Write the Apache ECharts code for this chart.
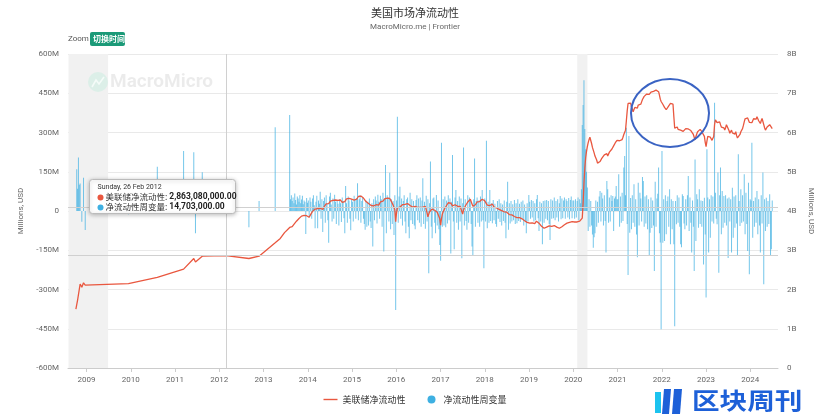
<!DOCTYPE html>
<html><head><meta charset="utf-8">
<script src="https://cdn.jsdelivr.net/npm/echarts@6/dist/echarts.min.js"></script>
<style>html,body{margin:0;padding:0;background:#fff}#c{width:830px;height:416px}</style>
</head><body><div id="c"></div>
<script>
// ---- Data (line: right axis, "B"; bars: left axis, "M") ----
const lineEarly = [['2008-10-05',1.50],['2008-10-19',1.73],['2008-11-09',2.14],['2008-11-23',2.06],['2008-12-07',2.17],['2008-12-21',2.11],['2009-12-13',2.15],['2010-08-08',2.31],['2011-03-13',2.52],['2011-06-05',2.79],['2011-06-19',2.70],['2011-08-14',2.85],['2012-02-26',2.863],['2012-09-02',2.79],['2012-11-25',2.85],['2013-04-07',3.19],['2013-05-19',3.30],['2013-06-23',3.45]];
const barEarly = [['2008-10-12',160],['2008-10-19',85],['2008-10-26',204],['2008-11-02',100],['2008-11-09',105],['2008-11-23',-41],['2008-12-07',127],['2008-12-21',-73],['2009-12-13',-12],['2010-08-08',169],['2011-03-13',229],['2011-06-05',225],['2011-06-19',-85],['2011-08-14',148],['2012-02-26',14.703],['2012-09-02',-62],['2012-11-25',38],['2013-04-07',320]];
const denseStart = [2013, 7, 4]; // weekly from 2013-08-04
const line2013 = [3.58,3.59,3.60,3.60,3.63,3.66,3.69,3.71,3.74,3.76,3.79,3.81,3.84,3.85,3.87,3.86,3.88,3.89,3.90,3.91,3.88,3.86];
const line2014 = [3.84,3.84,3.88,3.92,3.95,3.99,4.01,4.03,4.05,4.02,4.07,4.06,4.09,4.10,4.07,4.05,4.03,4.04,4.09,4.12,4.15,4.18,4.20,4.22,4.19,4.23,4.25,4.26,4.24,4.27,4.22,4.25,4.28,4.24,4.26,4.27,4.26,4.23,4.28,4.25,4.22,4.26,4.27,4.24,4.29,4.31,4.33,4.35,4.32,4.30,4.33,4.30];
const line2015 = [4.31,4.29,4.28,4.31,4.33,4.30,4.35,4.37,4.34,4.36,4.38,4.40,4.36,4.33,4.30,4.28,4.24,4.26,4.22,4.19,4.21,4.16,4.14,4.15,4.11,4.13,4.10,4.14,4.16,4.18,4.17,4.15,4.20,4.23,4.26,4.28,4.25,4.29,4.31,4.34,4.36,4.33,4.36,4.38,4.32,4.28,4.24,4.20,4.15,4.10,4.03,3.73];
const line2016 = [3.95,4.08,4.11,4.13,4.10,4.15,4.12,4.16,4.18,4.14,4.17,4.20,4.16,4.19,4.20,4.17,4.14,4.16,4.12,4.10,4.11,4.08,4.12,4.10,4.13,4.09,4.11,4.07,4.09,4.12,4.14,4.10,4.13,4.15,4.12,4.08,3.95,3.85,3.92,3.98,4.01,4.03,4.05,4.03,4.00,4.02,3.99,4.01,3.97,3.98,3.92,3.80];
const line2017 = [3.64,3.80,3.92,3.98,4.03,4.07,4.10,4.14,4.18,4.21,4.22,4.24,4.20,4.16,4.13,4.11,4.14,4.16,4.13,4.15,4.12,4.14,4.10,4.12,4.11,4.09,3.92,4.02,4.08,4.11,4.16,4.19,4.23,4.26,4.28,4.30,4.25,4.18,4.12,4.07,4.12,4.16,4.20,4.23,4.25,4.26,4.24,4.28,4.27,4.30,4.29,4.30,4.26];
const line2018 = [4.27,4.22,4.15,4.13,4.11,4.14,4.16,4.19,4.18,4.14,4.10,4.09,4.07,4.08,4.05,4.06,4.04,4.05,4.03,4.01,4.02,3.99,3.98,3.99,3.96,3.97,3.94,3.93,3.91,3.92,3.89,3.90,3.87,3.88,3.86,3.84,3.85,3.83,3.82,3.81,3.83,3.80,3.78,3.80,3.77,3.77,3.75,3.73,3.74,3.71,3.69,3.70];
const line2019 = [3.69,3.71,3.68,3.70,3.67,3.69,3.68,3.70,3.74,3.77,3.72,3.69,3.66,3.64,3.61,3.59,3.57,3.56,3.58,3.60,3.59,3.62,3.64,3.62,3.60,3.63,3.61,3.64,3.62,3.63,3.62,3.60,3.59,3.58,3.57,3.56,3.56,3.58,3.60,3.62,3.63,3.65,3.67,3.66,3.69,3.70,3.68,3.71,3.72,3.70,3.73,3.71];
const line2020 = [3.70,3.72,3.70,3.69,3.72,3.70,3.71,3.74,3.72,3.76,3.82,4.20,4.70,5.10,5.35,5.52,5.64,5.74,5.82,5.88,5.84,5.72,5.62,5.55,5.48,5.40,5.35,5.30,5.22,5.17,5.20,5.26,5.30,5.34,5.30,5.36,5.43,5.38,5.42,5.46,5.40,5.44,5.50,5.48,5.55,5.58,5.62,5.66,5.70,5.74,5.77,5.80];
const line2021 = [5.78,5.80,5.79,5.83,5.81,5.82,5.88,5.95,6.00,6.06,6.30,6.55,6.74,6.70,6.79,6.75,6.66,6.60,6.53,6.58,6.64,6.60,6.66,6.62,6.70,6.68,6.74,6.72,6.78,6.84,6.88,6.92,6.96,6.93,6.98,6.95,7.00,6.97,7.00,7.03,6.98,7.02,7.05,7.00,7.04,7.08,7.06,7.09,7.04,6.95,6.85,6.79];
const line2022 = [6.76,6.72,6.68,6.64,6.60,6.58,6.57,6.62,6.68,6.72,6.74,6.70,6.73,6.72,6.40,6.11,6.15,6.10,6.14,6.08,6.12,6.11,6.06,6.09,6.05,6.03,6.08,6.06,6.10,6.11,6.07,6.09,6.04,6.08,6.05,6.06,6.00,5.95,5.88,5.81,5.90,5.96,6.02,6.05,6.00,6.08,6.04,6.02,5.98,6.00,5.90,5.75];
const line2023 = [5.64,5.78,5.90,5.86,5.92,5.88,5.84,5.80,5.82,5.90,6.20,6.32,6.28,6.25,6.30,6.24,6.27,6.20,6.14,6.10,6.16,6.12,6.06,6.12,6.20,6.23,6.15,6.05,5.98,6.02,6.06,5.99,6.03,6.00,5.96,6.02,5.92,5.86,5.90,5.84,5.95,6.02,6.06,6.10,6.18,6.27,6.35,6.40,6.33,6.37,6.32,6.26,6.25];
const line2024 = [6.28,6.25,6.30,6.35,6.32,6.38,6.34,6.40,6.36,6.30,6.25,6.23,6.30,6.36,6.28,6.20,6.12,6.06,6.10,6.14,6.19,6.16,6.20,6.22,6.15,6.10];
const bar2013 = [367,45,60,38,52,30,67,42,25,55,48,35,60,30,44,58,26,40,35,-88,50,32];
const bar2014 = [40,-25,52,35,-30,48,60,22,-66,35,58,-66,40,28,74,-30,45,-80,38,52,-45,60,30,-35,-121,55,70,25,-40,48,-30,62,35,-50,40,28,-55,45,30,-42,52,38,-28,-85,96,30,-45,55,40,-30,-74,45];
const bar2015 = [35,-40,58,42,-30,50,106,-35,45,60,-45,38,52,-30,-50,-72,40,-60,35,-55,48,-40,-65,30,-136,45,-35,55,40,-48,62,35,-30,58,45,-60,70,-155,48,176,-85,60,52,-40,146,-70,45,-50,38,-92,60,-378];
const bar2016 = [40,360,-45,55,93,-30,48,-55,38,60,-40,-85,45,52,-60,-104,70,-35,45,-50,38,-55,-70,42,60,-35,48,-45,52,-60,40,125,-50,35,-68,58,-40,45,-238,30,189,-60,-104,48,52,-45,-85,61,-55,40,-70,-130];
const bar2017 = [-190,261,-60,45,-55,55,-62,40,-48,60,-35,48,-162,35,214,-40,-146,52,80,-45,38,-72,55,-40,48,-181,30,243,-55,45,-38,-72,60,-45,52,40,-50,-136,-168,45,201,-60,38,52,-45,40,-60,55,-40,80,-35,-219,48];
const bar2018 = [-40,268,-66,35,-45,80,-38,30,-47,42,-35,28,-50,-60,38,-30,45,-42,30,-55,25,-38,40,-45,-104,35,112,-72,30,-48,38,-40,26,-35,42,-50,30,-47,45,-38,28,-42,35,-30,40,-55,25,-38,-85,30,-40,61];
const bar2019 = [35,-30,42,-25,38,-40,30,-35,45,61,-28,-76,35,-40,30,-127,38,-45,40,-30,42,-35,38,-50,-111,45,-30,40,-28,52,-35,38,-25,45,-40,30,57,-32,48,-28,40,52,-30,45,38,-25,50,-32,42,55,-28,40];
const bar2020 = [40,-30,45,-25,38,52,-35,45,30,83,329,405,500,313,236,150,90,-76,45,-60,38,-55,-90,-140,-100,-85,40,-60,35,-45,55,76,-40,70,48,-55,60,-38,-159,115,83,-45,52,-40,60,38,57,-76,48,55,96,45];
const bar2021 = [45,140,-60,55,-45,70,-38,166,210,60,318,-50,-245,287,-83,50,-70,60,-45,102,-60,45,-90,-177,108,-55,70,48,-40,130,115,-60,55,-48,60,-70,45,-170,-83,52,-65,40,-55,-229,112,-60,48,66,166,-85,-120,-452];
const bar2022 = [229,-121,45,-115,60,-89,38,55,-60,83,-127,45,-70,38,-127,-440,38,-51,60,-45,52,-60,-127,-139,64,57,-48,-70,45,-55,60,134,-76,52,-45,-159,40,-60,-229,197,-115,64,45,-64,83,-50,40,-60,38,-204,51,-90];
const bar2023 = [-331,236,52,-159,45,-102,60,-40,55,-48,414,70,-30,-51,147,-236,60,166,-89,76,-64,57,-45,60,-55,48,-180,52,-40,45,-159,89,-102,55,-64,60,-48,-170,217,38,-57,83,-45,60,-40,140,-89,70,-50,-153,108,-242,45];
const bar2024 = [40,261,-102,38,-60,52,-45,76,-89,45,-55,-159,60,-48,147,-280,45,-76,51,-60,38,-50,64,-172,-146,40];
const recessions = [['2008-08-05','2009-06-28'],['2020-02-03','2020-04-27']];
const leftTicks = {min:-600,max:600,interval:150};
const rightTicks = {min:0,max:8,interval:1};
const tipDate = '2012-02-26';
const tipLine = 2.86308, tipBar = 14.703;

// ---- Build ----
const lineDense = [].concat(line2013,line2014,line2015,line2016,line2017,line2018,line2019,line2020,line2021,line2022,line2023,line2024);
const barDense = [].concat(bar2013,bar2014,bar2015,bar2016,bar2017,bar2018,bar2019,bar2020,bar2021,bar2022,bar2023,bar2024);
const t0 = new Date(denseStart[0],denseStart[1],denseStart[2],12).getTime();
const wk = 7*86400000;
const lineData = lineEarly.map(d=>[d[0],d[1]]).concat(lineDense.map((v,i)=>[t0+i*wk,v]));
const barData = barEarly.map(d=>[d[0],d[1]]).concat(barDense.map((v,i)=>[t0+i*wk,v]));

const FF = 'Roboto, "Noto Sans CJK SC", sans-serif';
const CJK = '"Noto Sans CJK SC", sans-serif';
function zz(list, z){ list.forEach(e=>{ e.z = z; if(e.children) zz(e.children, z); }); return list; }

const chart = echarts.init(document.getElementById('c'), null, {renderer:'canvas'});
chart.setOption({
  animation:false,
  backgroundColor:'#fff',
  textStyle:{fontFamily:FF},
  title:{text:'美国市场净流动性', subtext:'MacroMicro.me | Frontier', left:'center', top:2,
    textStyle:{fontSize:11,fontWeight:'normal',color:'#333',fontFamily:CJK},
    subtextStyle:{fontSize:8,color:'#666',fontFamily:FF}, itemGap:5},
  legend:{bottom:7,left:'center',itemWidth:14,itemHeight:8,itemGap:22,
    textStyle:{fontSize:9,color:'#333',fontFamily:CJK},
    data:[{name:'美联储净流动性',icon:'path://M0,3.3 L14,3.3 L14,4.7 L0,4.7 Z'},{name:'净流动性周变量',icon:'circle',itemStyle:{color:'#3eb0e2',opacity:1}}]},
  grid:{left:68,right:52,top:54,bottom:48},
  xAxis:{type:'time', min:'2008-08-05', max:'2024-08-13', splitNumber:16,
    minInterval:365*86400000, maxInterval:366*86400000,
    axisLine:{onZero:false,lineStyle:{color:'#ccc'}},
    axisTick:{show:true,length:4,lineStyle:{color:'#ccc'}},
    axisLabel:{formatter:'{yyyy}',color:'#666',fontSize:8,margin:8,fontFamily:FF,hideOverlap:false,showMinLabel:false,showMaxLabel:false},
    splitLine:{show:false}},
  yAxis:[
    {type:'value',min:leftTicks.min,max:leftTicks.max,interval:leftTicks.interval,position:'left',
     name:'Millions, USD',nameLocation:'middle',nameGap:36,nameTextStyle:{fontSize:8,color:'#666',fontFamily:FF},
     axisLine:{show:false},axisTick:{show:false},
     axisLabel:{formatter:v=>v===0?'0':v+'M',color:'#666',fontSize:8,margin:9,fontFamily:FF},
     splitLine:{lineStyle:{color:'#e9e9e9',width:1}}},
    {type:'value',min:rightTicks.min,max:rightTicks.max,interval:rightTicks.interval,position:'right',
     name:'Millions, USD',nameLocation:'middle',nameGap:24,nameRotate:-90,nameTextStyle:{fontSize:8,color:'#666',fontFamily:FF},
     axisLine:{show:false},axisTick:{show:false},
     axisLabel:{formatter:v=>v===0?'0':v+'B',color:'#666',fontSize:8,margin:9,fontFamily:FF},
     splitLine:{show:false}}
  ],
  series:[
    {name:'净流动性周变量',type:'bar',yAxisIndex:0,data:barData,barWidth:0.7,
     itemStyle:{color:'#3eb0e2',opacity:0.72},
     markArea:{silent:true,itemStyle:{color:'#f1f1f1',opacity:1},data:recessions.map(r=>[{xAxis:r[0]},{xAxis:r[1]}])},
     markLine:{silent:true,symbol:'none',label:{show:false},lineStyle:{color:'#d0d0d0',type:'solid',width:1,opacity:1},
       data:[{yAxis:tipBar},{xAxis:tipDate}]}},
    {name:'美联储净流动性',type:'line',yAxisIndex:1,data:lineData,symbol:'none',showSymbol:false,
     lineStyle:{color:'#e9573f',width:1.3},itemStyle:{color:'#e9573f'},z:3,
     markLine:{silent:true,symbol:'none',label:{show:false},lineStyle:{color:'#d0d0d0',type:'solid',width:1},
       data:[{yAxis:tipLine}]}}
  ],
  graphic: zz([
    // watermark
    {type:'circle',left:88,top:72,shape:{r:10},style:{fill:'#dcefe8'},silent:true},
    {type:'polyline',shape:{points:[[92,87],[96,80],[99,84],[104,77]]},style:{stroke:'#f4fbf8',lineWidth:1.6,fill:null},silent:true},
    {type:'text',left:110,top:73,style:{text:'MacroMicro',fill:'rgba(0,0,0,0.08)',font:'bold 19px '+FF},silent:true}
  ], 5).concat(zz([
    // zoom control
    {type:'text',left:68,top:35,style:{text:'Zoom',fill:'#555',font:'8px '+FF}},
    {type:'rect',left:90,top:32,shape:{width:35,height:14,r:2},style:{fill:'#1b9a78'}},
    {type:'text',left:93,top:35,style:{text:'切换时间',fill:'#fff',font:'bold 8px '+CJK}},
    // annotation ellipse
    {type:'ellipse',shape:{cx:670,cy:113,rx:39,ry:34},style:{fill:'none',stroke:'#3a63c3',lineWidth:2}},
    // tooltip
    {type:'group',left:89,top:179,children:[
      {type:'rect',shape:{x:0,y:0,width:146,height:34,r:3},style:{fill:'#fff',stroke:'#bbb',lineWidth:1,shadowBlur:4,shadowColor:'rgba(0,0,0,0.25)',shadowOffsetY:1}},
      {type:'text',x:8,y:4,style:{text:'Sunday, 26 Feb 2012',fill:'#333',font:'7px '+FF}},
      {type:'circle',shape:{cx:11,cy:18,r:3},style:{fill:'#e9573f'}},
      {type:'text',x:16,y:13,style:{text:'{a|美联储净流动性: }{b|2,863,080,000.00}',rich:{a:{fill:'#333',font:'8.5px '+CJK},b:{fill:'#222',font:'bold 8.5px '+FF}}}},
      {type:'circle',shape:{cx:11,cy:28,r:3},style:{fill:'#3eb0e2'}},
      {type:'text',x:16,y:23,style:{text:'{a|净流动性周变量: }{b|14,703,000.00}',rich:{a:{fill:'#333',font:'8.5px '+CJK},b:{fill:'#222',font:'bold 8.5px '+FF}}}}
    ]},
    // bottom-right logo
    {type:'group',left:655,top:389,children:[
      {type:'rect',shape:{x:0,y:3,width:6,height:21},style:{fill:'#1cc3ef'}},
      {type:'polygon',shape:{points:[[9,0],[16,0],[14,25],[7,25]]},style:{fill:'#1d60d8'}},
      {type:'polygon',shape:{points:[[19,0],[27,0],[25,25],[17,25]]},style:{fill:'#1d60d8'}},
      {type:'text',x:37,y:0,scaleX:1.2,style:{text:'区块周刊',fill:'#1d60d8',font:'bold 23px '+CJK}}
    ]}
  ], 200))
});
</script></body></html>
